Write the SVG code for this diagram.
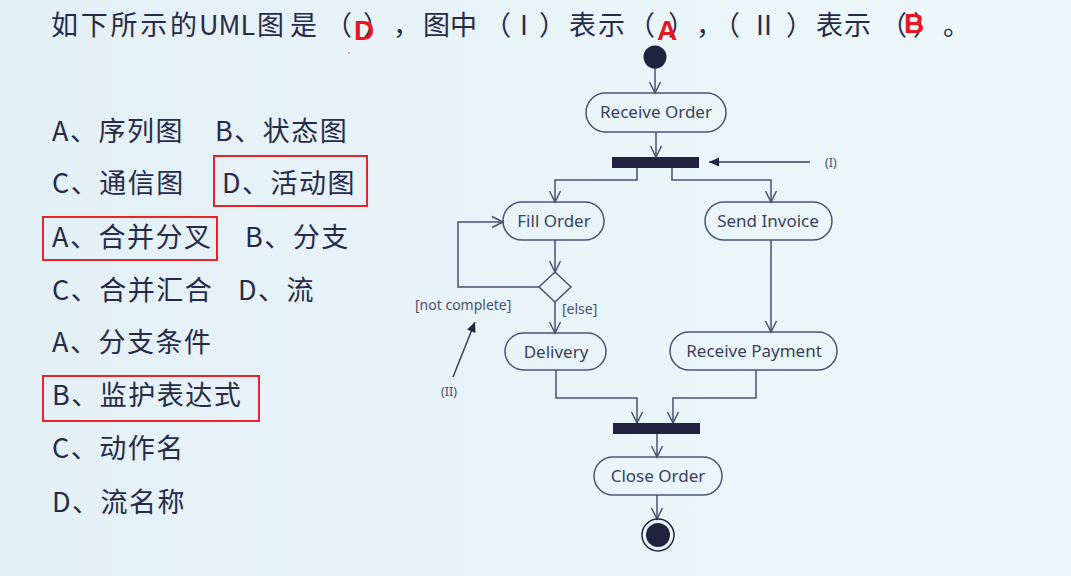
<svg xmlns="http://www.w3.org/2000/svg" width="1071" height="576" viewBox="0 0 1071 576">
  <defs>
    <linearGradient id="bg" x1="0" y1="0" x2="1" y2="0">
      <stop offset="0" stop-color="#e3f0f6"/>
      <stop offset="1" stop-color="#eef8fb"/>
    </linearGradient>
    <marker id="open" viewBox="-12 -7 14 14" refX="0" refY="0" markerWidth="14" markerHeight="14" markerUnits="userSpaceOnUse" orient="auto">
      <path d="M-11,-5.5 L0,0 L-11,5.5" fill="none" stroke="#4a5070" stroke-width="1.5"/>
    </marker>
    <marker id="solid" viewBox="-12 -7 14 14" refX="0" refY="0" markerWidth="14" markerHeight="14" markerUnits="userSpaceOnUse" orient="auto">
      <path d="M-10,-4.5 L0,0 L-10,4.5 Z" fill="#1f2340"/>
    </marker>
    <style>
      .t { font-family: "Noto Sans CJK SC", "Noto Sans", sans-serif; fill: #272b49; }
      .title { font-size: 27px; }
      .opt { font-size: 27px; letter-spacing: 1.5px; }
      .red { font-family: "Liberation Sans", Arial, sans-serif; font-weight: bold; font-size: 28px; fill: #e8161e; }
      .box { fill: none; stroke: #e8242a; stroke-width: 2; }
      .act { fill: none; stroke: #4a5276; stroke-width: 1.5; }
      .lbl { font-family: "Noto Sans", sans-serif; font-size: 17px; fill: #3a3f5c; text-anchor: middle; }
      .note { font-family: "Noto Sans", sans-serif; font-size: 14px; fill: #4a4f6c; }
      .small { font-family: "Noto Sans", sans-serif; font-size: 12.5px; fill: #4a4f6c; }
      .bar { fill: #1f2340; }
      .edge { fill: none; stroke: #4a5070; stroke-width: 1.5; marker-end: url(#open); }
      .ptr { fill: none; stroke: #3a3f5c; stroke-width: 1.5; marker-end: url(#solid); }
    </style>
  </defs>

  <rect width="1071" height="576" fill="url(#bg)"/>

  <!-- Title -->
  <g id="title">
    <text class="t title" y="35">
      <tspan x="51" textLength="146" lengthAdjust="spacing">如下所示的</tspan>
      <tspan x="199">UML</tspan>
      <tspan x="257" textLength="60" lengthAdjust="spacing">图是</tspan>
      <tspan x="325">（</tspan>
      <tspan x="363">）</tspan>
      <tspan x="393">，</tspan>
      <tspan x="423" textLength="54" lengthAdjust="spacing">图中</tspan>
      <tspan x="484">（</tspan>
      <tspan x="520">I</tspan>
      <tspan x="539">）</tspan>
      <tspan x="569" textLength="56" lengthAdjust="spacing">表示</tspan>
      <tspan x="628">（</tspan>
      <tspan x="668">）</tspan>
      <tspan x="696">，</tspan>
      <tspan x="713">（</tspan>
      <tspan x="756">II</tspan>
      <tspan x="786">）</tspan>
      <tspan x="816" textLength="55" lengthAdjust="spacing">表示</tspan>
      <tspan x="880">（</tspan>
      <tspan x="913">）</tspan>
      <tspan x="943">。</tspan>
    </text>
    <text class="red" x="354" y="40">D</text>
    <text class="red" x="657" y="40">A</text>
    <text class="red" x="904" y="33">B</text>
    <circle cx="349" cy="53" r="1" fill="#e88a8e"/>
  </g>

  <!-- Options -->
  <g id="options">
    <text class="t opt" x="52" y="141">A、序列图</text>
    <text class="t opt" x="215" y="141">B、状态图</text>
    <text class="t opt" x="52" y="193">C、通信图</text>
    <text class="t opt" x="222" y="193">D、活动图</text>
    <text class="t opt" x="52" y="247">A、合并分叉</text>
    <text class="t opt" x="245" y="247">B、分支</text>
    <text class="t opt" x="52" y="300">C、合并汇合</text>
    <text class="t opt" x="238" y="300">D、流</text>
    <text class="t opt" x="52" y="352">A、分支条件</text>
    <text class="t opt" x="52" y="405">B、监护表达式</text>
    <text class="t opt" x="52" y="458">C、动作名</text>
    <text class="t opt" x="52" y="512">D、流名称</text>
    <rect class="box" x="214" y="156" width="153" height="50"/>
    <rect class="box" x="43" y="217" width="174" height="43"/>
    <rect class="box" x="43" y="376" width="216" height="45"/>
  </g>

  <!-- Connectors -->
  <g id="connectors">
    <path class="edge" d="M655,68 V93"/>
    <path class="edge" d="M656,132 V157"/>
    <path class="edge" d="M637,168 V180 H555 V202"/>
    <path class="edge" d="M672,168 V180 H771 V202"/>
    <path class="edge" d="M555,240 V272"/>
    <path class="edge" d="M539,287 H458 V222 H503"/>
    <path class="edge" d="M555,302 V333"/>
    <path class="edge" d="M771,240 V332"/>
    <path class="edge" d="M556,370 V398 H637 V423"/>
    <path class="edge" d="M756,370 V398 H673 V423"/>
    <path class="edge" d="M657,434 V457"/>
    <path class="edge" d="M657,495 V519"/>
    <path class="ptr" d="M810,162 H709"/>
    <path class="ptr" d="M453,377 L475,322"/>
  </g>

  <!-- Nodes -->
  <g id="initial">
    <circle cx="655" cy="57" r="11.5" fill="#1f2340"/>
  </g>
  <g id="receive-order">
    <rect class="act" x="586" y="93" width="140" height="39" rx="19.5"/>
    <text class="lbl" x="656" y="118">Receive Order</text>
  </g>
  <g id="fork">
    <rect class="bar" x="612" y="157" width="87" height="11"/>
  </g>
  <g id="fill-order">
    <rect class="act" x="503" y="202" width="101" height="38" rx="19"/>
    <text class="lbl" x="554" y="227">Fill Order</text>
  </g>
  <g id="send-invoice">
    <rect class="act" x="705" y="202" width="127" height="38" rx="19"/>
    <text class="lbl" x="768" y="227">Send Invoice</text>
  </g>
  <g id="decision">
    <path class="act" d="M555,272 L571,287 L555,302 L539,287 Z"/>
  </g>
  <g id="delivery">
    <rect class="act" x="505" y="333" width="101" height="37" rx="18.5"/>
    <text class="lbl" x="556" y="358">Delivery</text>
  </g>
  <g id="receive-payment">
    <rect class="act" x="670" y="332" width="167" height="38" rx="19"/>
    <text class="lbl" x="754" y="357">Receive Payment</text>
  </g>
  <g id="join">
    <rect class="bar" x="613" y="423" width="87" height="11"/>
  </g>
  <g id="close-order">
    <rect class="act" x="594" y="457" width="128" height="38" rx="19"/>
    <text class="lbl" x="658" y="482">Close Order</text>
  </g>
  <g id="final">
    <circle cx="658" cy="535" r="16" fill="none" stroke="#1f2340" stroke-width="1.5"/>
    <circle cx="658" cy="535" r="12" fill="#1f2340"/>
  </g>

  <!-- Annotations -->
  <g id="labels">
    <text class="note" x="415" y="310">[not complete]</text>
    <text class="note" x="562" y="314">[else]</text>
    <text class="small" x="825" y="167">(I)</text>
    <text class="small" x="441" y="396">(II)</text>
  </g>
</svg>
